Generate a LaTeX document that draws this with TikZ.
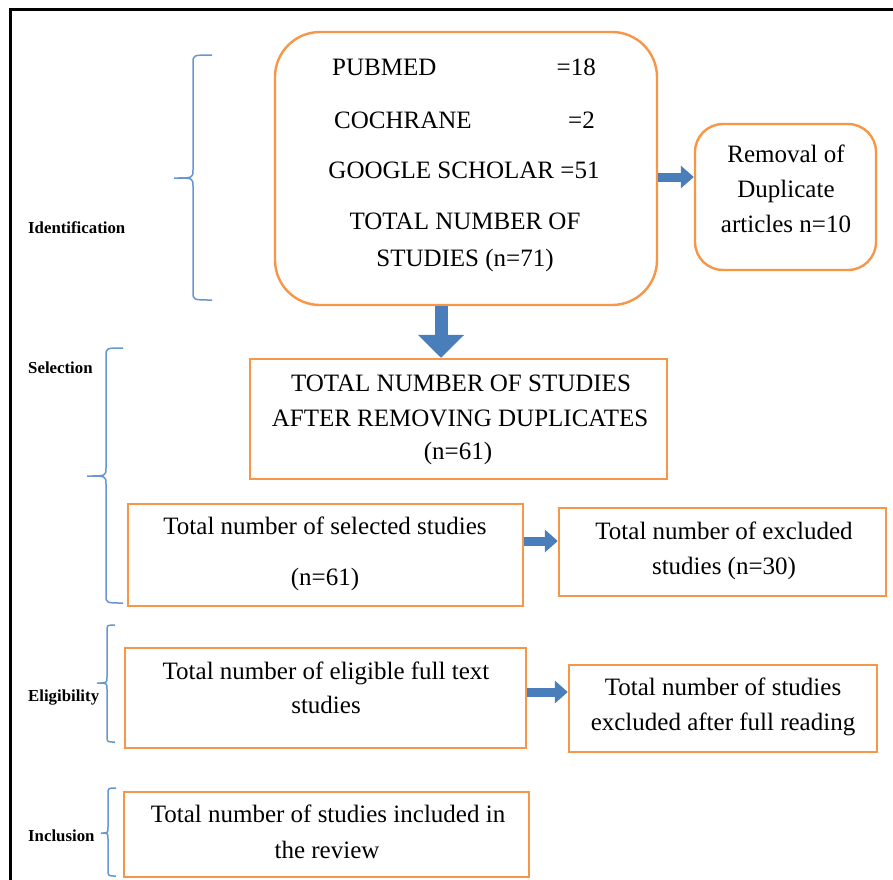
\documentclass[tikz,border=0pt]{standalone}
\usepackage{fontspec}
\setmainfont{Liberation Serif}
\usetikzlibrary{arrows.meta}
\definecolor{boxorange}{HTML}{F79646}
\definecolor{braceblue}{RGB}{104,150,210}
\definecolor{arrowblue}{HTML}{4A7EBB}
\tikzset{
  sqbox/.style={draw=boxorange, line width=2.4pt, inner sep=0pt, fill=white},
  rbox/.style={sqbox, rounded corners=#1},
  txt/.style={font=\fontsize{25}{29}\selectfont, anchor=base, inner sep=0pt},
  txtl/.style={txt, anchor=base west},
  txtr/.style={txt, anchor=base east},
  lbl/.style={font=\bfseries\fontsize{16.8}{20}\selectfont, anchor=base west, inner sep=0pt},
  bracepath/.style={draw=braceblue, line width=1.5pt},
  bigarrow/.style={draw=arrowblue, line width=13pt, -{Triangle[width=45pt,length=23pt]}},
  smallarrow/.style={draw=arrowblue, line width=9pt, -{Triangle[width=22pt,length=13pt]}},
}
\begin{document}
\begin{tikzpicture}[x=1pt,y=-1pt]
\useasboundingbox (0,0) rectangle (893,879);
% outer frame
\draw[line width=3pt] (10,882) -- (10,9) -- (896,9);

% boxes
\node[rbox=45pt, minimum width=382pt, minimum height=273pt] (main) at (466,168.5) {};
\node[rbox=28pt, minimum width=181pt, minimum height=146pt] (removal) at (785.5,197) {};
\node[sqbox, minimum width=417pt, minimum height=120pt] (b2) at (458.5,419) {};
\node[sqbox, minimum width=395pt, minimum height=102pt] (b3) at (325.5,555) {};
\node[sqbox, minimum width=327pt, minimum height=88pt] (b4) at (722.5,552) {};
\node[sqbox, minimum width=401pt, minimum height=100pt] (b5) at (325.5,698) {};
\node[sqbox, minimum width=308pt, minimum height=87pt] (b6) at (723,708.5) {};
\node[sqbox, minimum width=405pt, minimum height=85pt] (b7) at (326.5,834.5) {};

% texts in main box
\node[txtl] (t1a) at (332,75) {PUBMED};
\node[txtr] (t1b) at (596,75) {=18};
\node[txtl] (t2a) at (334,128) {COCHRANE};
\node[txtr] (t2b) at (595,128) {=2};
\node[txt] (t3) at (464,178) {GOOGLE SCHOLAR =51};
\node[txt] (t4) at (465,229) {TOTAL NUMBER OF};
\node[txt] (t5) at (465,266) {STUDIES (n=71)};

% removal box
\node[txt] (r1) at (786,162) {Removal of};
\node[txt] (r2) at (786,197) {Duplicate};
\node[txt] (r3) at (786,232) {articles n=10};

% box 2
\node[txt] (s1) at (461,391) {TOTAL NUMBER OF STUDIES};
\node[txt] (s2) at (460,426) {AFTER REMOVING DUPLICATES};
\node[txt] (s3) at (458,459) {(n=61)};

% box 3
\node[txt] (c1) at (325,534) {Total number of selected studies};
\node[txt] (c2) at (325,585) {(n=61)};

% box 4
\node[txt] (d1) at (724,539) {Total number of excluded};
\node[txt] (d2) at (724,574) {studies (n=30)};

% box 5
\node[txt] (e1) at (326,679) {Total number of eligible full text};
\node[txt] (e2) at (326,713) {studies};

% box 6
\node[txt] (f1) at (723,695) {Total number of studies};
\node[txt] (f2) at (723,730) {excluded after full reading};

% box 7
\node[txt] (g1) at (328,822) {Total number of studies included in};
\node[txt] (g2) at (327,858) {the review};

% stage labels
\node[lbl] (lid) at (28,233) {Identification};
\node[lbl] (lsel) at (28,373) {Selection};
\node[lbl] (lel) at (28,701) {Eligibility};
\node[lbl] (linc) at (28,841) {Inclusion};

% braces
\draw[bracepath] (212,55) .. controls (193,55) .. (193,63) -- (193,170) .. controls (193,178) .. (174,178)
  .. controls (193,178) .. (193,186) -- (193,292) .. controls (193,300) .. (212,300);
\draw[bracepath] (123,348) .. controls (106,348) .. (106,356) -- (106,468) .. controls (106,476) .. (87,476)
  .. controls (106,476) .. (106,484) -- (106,595) .. controls (106,603) .. (123,603);
\draw[bracepath] (115,625) .. controls (107,625) .. (107,631) -- (107,677) .. controls (107,683) .. (97,683)
  .. controls (107,683) .. (107,689) -- (107,736) .. controls (107,742) .. (115,742);
\draw[bracepath] (116,788) .. controls (108,788) .. (108,794) -- (108,827) .. controls (108,833) .. (101,833)
  .. controls (108,833) .. (108,839) -- (108,870) .. controls (108,876) .. (116,876);

% arrows
\draw[bigarrow] ([xshift=-25pt]main.south) -- ([xshift=-25pt]main.south |- b2.north);
\draw[smallarrow] ([yshift=-8.5pt]main.east) -- ([yshift=-8.5pt]main.east -| removal.west);
\draw[smallarrow] ([yshift=14pt]b3.east) -- ([yshift=14pt]b3.east -| b4.west);
\draw[smallarrow] ([yshift=6pt]b5.east) -- ([yshift=6pt]b5.east -| b6.west);
\end{tikzpicture}
\end{document}
